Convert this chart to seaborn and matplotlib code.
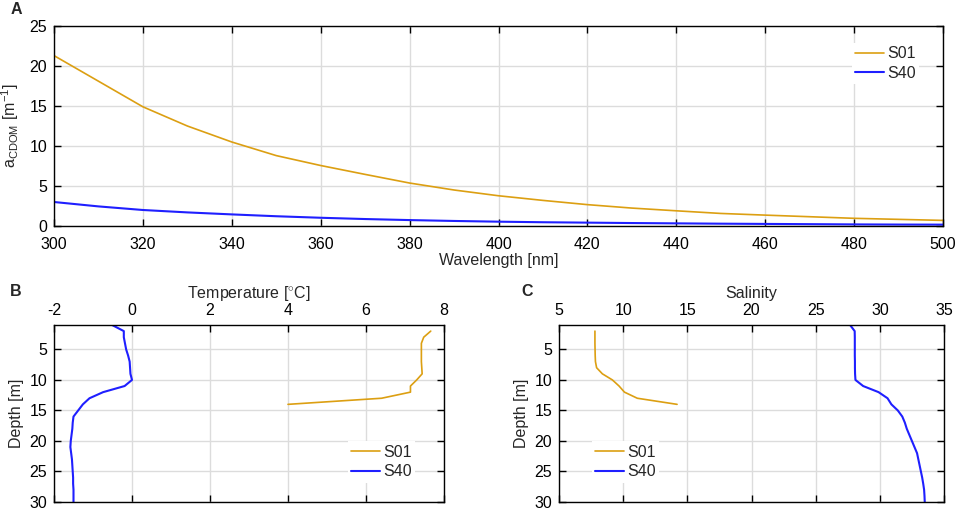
import numpy as np
import pandas as pd
import matplotlib
matplotlib.use("Agg")
import matplotlib.pyplot as plt
import seaborn as sns

# ---- Data ----
wavelength = [300, 310, 320, 330, 340, 350, 360, 370, 380, 390, 400,
              410, 420, 430, 440, 450, 460, 470, 480, 490, 500]
acdom_s01 = [21.3, 18.1, 14.9, 12.5, 10.5, 8.8, 7.56, 6.45, 5.37, 4.5, 3.78,
             3.2, 2.67, 2.24, 1.9, 1.57, 1.36, 1.16, 0.96, 0.83, 0.70]
acdom_s40 = [3.0, 2.45, 2.0, 1.7, 1.45, 1.22, 1.03, 0.87, 0.74, 0.63, 0.54,
             0.47, 0.42, 0.37, 0.33, 0.29, 0.26, 0.23, 0.20, 0.18, 0.17]

depth_s01 = [2, 3, 4, 5, 6, 7, 8, 9, 10, 11, 12, 13, 14]
temp_s01 = [7.66, 7.48, 7.42, 7.42, 7.42, 7.42, 7.43, 7.44, 7.30, 7.14, 7.14, 6.40, 4.00]
sal_s01 = [7.80, 7.80, 7.80, 7.81, 7.82, 7.84, 7.93, 8.38, 9.16, 9.68, 10.10, 11.10, 14.20]

depth_s40 = [1, 2, 3, 4, 5, 6, 7, 8, 9, 10, 11, 12, 13, 14, 15, 16, 17, 18, 19, 20,
             21, 22, 23, 24, 25, 26, 27, 28, 29, 30]
temp_s40 = [-0.51, -0.21, -0.21, -0.18, -0.15, -0.10, -0.06, -0.05, -0.04, 0.00,
            -0.19, -0.74, -1.09, -1.26, -1.38, -1.50, -1.52, -1.53, -1.55, -1.57,
            -1.58, -1.56, -1.54, -1.53, -1.52, -1.51, -1.51, -1.50, -1.50, -1.50]
sal_s40 = [27.68, 28.04, 28.05, 28.05, 28.05, 28.05, 28.06, 28.06, 28.07, 28.10,
           28.70, 29.90, 30.60, 30.90, 31.40, 31.75, 31.95, 32.10, 32.30, 32.50,
           32.70, 32.90, 33.00, 33.10, 33.20, 33.30, 33.38, 33.45, 33.48, 33.50]

station_labels = ["S01", "S40"]
wl_ticks = [300, 320, 340, 360, 380, 400, 420, 440, 460, 480, 500]
acdom_ticks = [0, 5, 10, 15, 20, 25]
temp_ticks = [-2, 0, 2, 4, 6, 8]
sal_ticks = [5, 10, 15, 20, 25, 30, 35]
depth_ticks = [5, 10, 15, 20, 25, 30]

C_S01 = "#dc9f12"
C_S40 = "#1f1fff"
FS = 11.5

sns.set_style("white")
plt.rcParams['font.family'] = ['Liberation Sans', 'DejaVu Sans']
plt.rcParams['mathtext.fontset'] = 'custom'
plt.rcParams['mathtext.rm'] = 'Liberation Sans'
plt.rcParams['mathtext.it'] = 'Liberation Sans'
plt.rcParams['font.size'] = FS
plt.rcParams['axes.unicode_minus'] = False

fig = plt.figure(figsize=(9.57, 5.11), dpi=100)

W, H = 957.0, 511.0
def rect(l, t, r, b):
    return [l / W, 1 - b / H, (r - l) / W, (b - t) / H]

axA = fig.add_axes(rect(54, 26, 943, 226))
axB = fig.add_axes(rect(54, 325, 444, 502))
axC = fig.add_axes(rect(559, 325, 944, 502))

def style(ax, xpad=5):
    ax.grid(True, color="#dcdcdc", lw=1.0, zorder=0)
    ax.set_axisbelow(True)
    for s in ax.spines.values():
        s.set_color("black")
        s.set_linewidth(1.0)
    ax.tick_params(direction="in", length=5, width=1.0, top=True, right=True,
                   bottom=True, left=True, labelsize=FS, colors="black", pad=5)
    ax.tick_params(axis="x", pad=xpad)

def add_legend(ax, **kw):
    leg = ax.legend(frameon=True, fancybox=False, handlelength=1.8,
                    handletextpad=0.2, borderpad=0.2, labelspacing=0.3,
                    fontsize=FS, borderaxespad=0, **kw)
    fr = leg.get_frame()
    fr.set_facecolor("white")
    fr.set_edgecolor("none")
    fr.set_alpha(1)

# Panel A
dfA = pd.DataFrame({"wl": wavelength, "s01": acdom_s01, "s40": acdom_s40})
sns.lineplot(data=dfA, x="wl", y="s01", ax=axA, color=C_S01, lw=1.2, label=station_labels[0])
sns.lineplot(data=dfA, x="wl", y="s40", ax=axA, color=C_S40, lw=1.5, label=station_labels[1])
axA.set_xlim(300, 500)
axA.set_ylim(0, 25)
axA.set_xticks(wl_ticks)
axA.set_yticks(acdom_ticks)
axA.set_xlabel("Wavelength [nm]", fontsize=FS, labelpad=1)
axA.set_ylabel(r"a$_{\mathrm{CDOM}}$ [m$^{\mathrm{-1}}$]", fontsize=FS, labelpad=6)
style(axA, xpad=8)
add_legend(axA, loc="upper right", bbox_to_anchor=(0.973, 0.915))

# Panel B
sns.lineplot(x=temp_s01, y=depth_s01, ax=axB, sort=False, orient="y", estimator=None,
             color=C_S01, lw=1.2, label=station_labels[0])
sns.lineplot(x=temp_s40, y=depth_s40, ax=axB, sort=False, orient="y", estimator=None,
             color=C_S40, lw=1.5, label=station_labels[1])
axB.set_xlim(-2, 8)
axB.set_ylim(30, 1)
axB.set_xticks(temp_ticks)
axB.set_yticks(depth_ticks)
axB.xaxis.set_label_position("top")
axB.xaxis.tick_top()
axB.set_xlabel(r"Temperature [$^{\circ}$C]", fontsize=FS, labelpad=3.5)
axB.set_ylabel("Depth [m]", fontsize=FS, labelpad=4)
style(axB, xpad=5)
axB.tick_params(labeltop=True, labelbottom=False)
add_legend(axB, loc="lower right", bbox_to_anchor=(0.925, 0.11))

# Panel C
sns.lineplot(x=sal_s01, y=depth_s01, ax=axC, sort=False, orient="y", estimator=None,
             color=C_S01, lw=1.2, label=station_labels[0])
sns.lineplot(x=sal_s40, y=depth_s40, ax=axC, sort=False, orient="y", estimator=None,
             color=C_S40, lw=1.5, label=station_labels[1])
axC.set_xlim(5, 35)
axC.set_ylim(30, 1)
axC.set_xticks(sal_ticks)
axC.set_yticks(depth_ticks)
axC.xaxis.set_label_position("top")
axC.xaxis.tick_top()
axC.set_xlabel("Salinity", fontsize=FS, labelpad=3.5)
axC.set_ylabel("Depth [m]", fontsize=FS, labelpad=4)
style(axC, xpad=5)
axC.tick_params(labeltop=True, labelbottom=False)
add_legend(axC, loc="lower left", bbox_to_anchor=(0.085, 0.11))

# Panel letters
fig.text(11 / W, 1 - 10 / H, "A", fontsize=11.5, fontweight="bold", va="center", ha="left")
fig.text(10 / W, 1 - 291 / H, "B", fontsize=11.5, fontweight="bold", va="center", ha="left")
fig.text(521 / W, 1 - 291 / H, "C", fontsize=11.5, fontweight="bold", va="center", ha="left")

fig.savefig("out.png", dpi=100)
